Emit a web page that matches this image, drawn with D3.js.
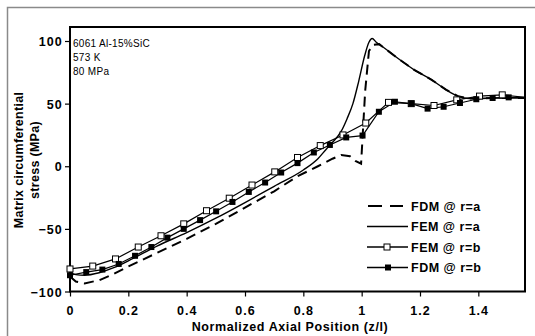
<!DOCTYPE html>
<html>
<head>
<meta charset="utf-8">
<script src="https://cdn.jsdelivr.net/npm/d3@7"></script>
<style>
	body { margin: 0; background: #fff; }
	svg { display: block; font-family: "Liberation Sans", Arial, sans-serif; }
</style>
</head>
<body>
<svg id="chart"></svg>
<script>
// FDM @ r=a (dashed)
const fdmA_x = [0, 0.02, 0.05, 0.1, 0.15, 0.2, 0.3, 0.4, 0.5, 0.6, 0.7, 0.78, 0.85, 0.9, 0.93, 0.96, 0.98, 0.998, 1.012, 1.025, 1.04, 1.06, 1.08, 1.125, 1.18, 1.24, 1.29, 1.33, 1.37, 1.45, 1.56];
const fdmA_y = [-88, -92, -93.5, -91, -86, -80, -69, -58, -46, -33, -20, -8, 0, 6, 9, 8, 4, 2, 60, 92, 97, 97.5, 94, 86, 77, 69, 61, 56, 54, 54.5, 54.5];

// FEM @ r=a (solid)
const femA_x = [0, 0.02, 0.05, 0.1, 0.15, 0.2, 0.3, 0.4, 0.5, 0.6, 0.7, 0.8, 0.85, 0.88, 0.9, 0.93, 0.95, 0.97, 0.99, 1.01, 1.025, 1.036, 1.05, 1.08, 1.125, 1.18, 1.24, 1.29, 1.33, 1.37, 1.45, 1.56];
const femA_y = [-84.5, -86.5, -87, -85, -81, -75.5, -63.5, -53, -41.5, -29, -16, -3, 6, 14, 19, 28, 38, 50, 68, 88, 99, 102, 99, 94, 86, 77, 69, 61, 56, 54, 54.5, 54.5];

// FEM @ r=b (open squares)
const femB_x = [0, 0.078, 0.156, 0.234, 0.312, 0.39, 0.468, 0.546, 0.624, 0.702, 0.78, 0.858, 0.936, 1.014, 1.092, 1.17, 1.248, 1.326, 1.404, 1.482, 1.56];
const femB_y = [-82, -79.7, -74, -64.5, -55.5, -46, -35.5, -25.5, -15, -4.5, 7, 16.5, 25, 34.5, 51, 50, 48.5, 53, 56, 57, 55];

// FDM @ r=b (filled squares)
const fdmB_x = [0, 0.0557, 0.111, 0.167, 0.223, 0.279, 0.334, 0.39, 0.446, 0.501, 0.557, 0.613, 0.669, 0.724, 0.78, 0.836, 0.891, 0.947, 1.003, 1.059, 1.114, 1.17, 1.226, 1.281, 1.337, 1.393, 1.449, 1.504, 1.56];
const fdmB_y = [-87, -84.5, -82.5, -78, -71.5, -64.5, -57, -50, -43, -36, -28.5, -20.5, -13, -5, 2.5, 11, 17, 23, 24.5, 43.5, 51.5, 50, 46, 47.5, 50.5, 53.5, 54.5, 55, 55];

const xTicks = [0, 0.2, 0.4, 0.6, 0.8, 1, 1.2, 1.4];
const yTicks = [-100, -50, 0, 50, 100];
const notes = ["6061 Al-15%SiC", "573 K", "80 MPa"];
const legendLabels = ["FDM @ r=a", "FEM @ r=a", "FEM @ r=b", "FDM @ r=b"];

const width = 535;
const height = 336;

const svg = d3.select("#chart")
	.attr("width", width)
	.attr("height", height);

// outer chart-area border
svg.append("rect")
	.attr("x", 7.5)
	.attr("y", 7.5)
	.attr("width", 560)
	.attr("height", 360)
	.attr("fill", "none")
	.attr("stroke", "#8a8a8a")
	.attr("stroke-width", 1.5);

const plotLeft = 70, plotRight = 525, plotTop = 27, plotBottom = 291.5;

const x = d3.scaleLinear().domain([0, 1.56]).range([plotLeft, plotRight]);
const y = d3.scaleLinear().domain([-100, 100]).range([plotBottom, 41]);

// axes
const xAxis = svg.append("g")
	.attr("transform", `translate(0, ${plotBottom})`)
	.call(d3.axisBottom(x).tickValues(xTicks).tickSize(5).tickFormat(d3.format("")));
const yAxis = svg.append("g")
	.attr("transform", `translate(${plotLeft}, 0)`)
	.call(d3.axisLeft(y).tickValues(yTicks).tickSize(5));

[xAxis, yAxis].forEach(a => {
	a.select(".domain").remove();
	a.selectAll("line").attr("stroke", "#000").attr("stroke-width", 1.2);
	a.selectAll("text")
		.attr("fill", "#000")
		.style("font-size", "12.5px")
		.style("font-weight", "bold")
		.style("letter-spacing", "1px");
});
xAxis.selectAll("text").attr("dy", "1.25em");
yAxis.selectAll("text").attr("dx", "0.05em").attr("dy", "0.36em");

// plot frame
svg.append("rect")
	.attr("x", plotLeft)
	.attr("y", plotTop)
	.attr("width", plotRight - plotLeft)
	.attr("height", plotBottom - plotTop)
	.attr("fill", "none")
	.attr("stroke", "#000")
	.attr("stroke-width", 2);

// axis titles
svg.append("text")
	.attr("x", 290)
	.attr("y", 331)
	.attr("text-anchor", "middle")
	.style("font-size", "12.5px")
	.style("font-weight", "bold")
	.style("letter-spacing", "0.6px")
	.text("Normalized Axial Position (z/l)");

const yTitle = svg.append("text")
	.attr("transform", "translate(23, 160) rotate(-90)")
	.attr("text-anchor", "middle")
	.style("font-size", "12.5px")
	.style("font-weight", "bold")
	.style("letter-spacing", "0.3px");
yTitle.append("tspan").attr("x", 0).attr("dy", 0).text("Matrix circumferential");
yTitle.append("tspan").attr("x", 0).attr("dy", "1.3em").text("stress (MPa)");

// annotation
svg.selectAll(".note")
	.data(notes)
	.enter().append("text")
	.attr("class", "note")
	.attr("x", 73)
	.attr("y", (d, i) => 47 + i * 14)
	.style("font-size", "10px")
	.style("letter-spacing", "0.3px")
	.text(d => d);

const line = d3.line()
	.x(d => x(d[0]))
	.y(d => y(d[1]));
const smooth = d3.line()
	.x(d => x(d[0]))
	.y(d => y(d[1]))
	.curve(d3.curveMonotoneX);

const zip = (xs, ys) => xs.map((v, i) => [v, ys[i]]);

const fdmA = zip(fdmA_x, fdmA_y);
const femA = zip(femA_x, femA_y);
const femB = zip(femB_x, femB_y);
const fdmB = zip(fdmB_x, fdmB_y);

svg.append("path")
	.attr("d", line(fdmA))
	.attr("fill", "none")
	.attr("stroke", "#000")
	.attr("stroke-width", 2)
	.attr("stroke-dasharray", "10,6");

svg.append("path")
	.attr("d", smooth(femA))
	.attr("fill", "none")
	.attr("stroke", "#000")
	.attr("stroke-width", 1.4);

svg.append("path")
	.attr("d", line(femB))
	.attr("fill", "none")
	.attr("stroke", "#000")
	.attr("stroke-width", 1.2);

svg.append("path")
	.attr("d", line(fdmB))
	.attr("fill", "none")
	.attr("stroke", "#000")
	.attr("stroke-width", 1.2);

const ms = 6;
svg.selectAll(".femB")
	.data(femB.slice(0, -1))
	.enter().append("rect")
	.attr("class", "femB")
	.attr("x", d => x(d[0]) - ms / 2)
	.attr("y", d => y(d[1]) - ms / 2)
	.attr("width", ms)
	.attr("height", ms)
	.attr("fill", "#fff")
	.attr("stroke", "#000")
	.attr("stroke-width", 1);

svg.selectAll(".fdmB")
	.data(fdmB.slice(0, -1))
	.enter().append("rect")
	.attr("class", "fdmB")
	.attr("x", d => x(d[0]) - ms / 2)
	.attr("y", d => y(d[1]) - ms / 2)
	.attr("width", ms)
	.attr("height", ms)
	.attr("fill", "#000");

// legend
const legend = svg.append("g").attr("transform", "translate(367, 206)");
legendLabels.forEach((label, i) => {
	const g = legend.append("g").attr("transform", `translate(0, ${i * 20.5})`);
	const ln = g.append("line")
		.attr("x1", 0).attr("x2", 41)
		.attr("y1", 0).attr("y2", 0)
		.attr("stroke", "#000");
	if (i === 0) {
		ln.attr("x1", 1).attr("x2", 36)
			.attr("stroke-width", 2).attr("stroke-dasharray", "14,8");
	} else {
		ln.attr("stroke-width", 1.3);
	}
	if (i === 2) {
		g.append("rect").attr("x", 17).attr("y", -3).attr("width", 6).attr("height", 6)
			.attr("fill", "#fff").attr("stroke", "#000");
	}
	if (i === 3) {
		g.append("rect").attr("x", 18).attr("y", -3).attr("width", 6).attr("height", 6)
			.attr("fill", "#000");
	}
	g.append("text")
		.attr("x", 44)
		.attr("y", 0)
		.attr("dy", "0.36em")
		.style("font-size", "12.5px")
		.style("font-weight", "bold")
		.style("letter-spacing", "0.5px")
		.text(label);
});
</script>
</body>
</html>
